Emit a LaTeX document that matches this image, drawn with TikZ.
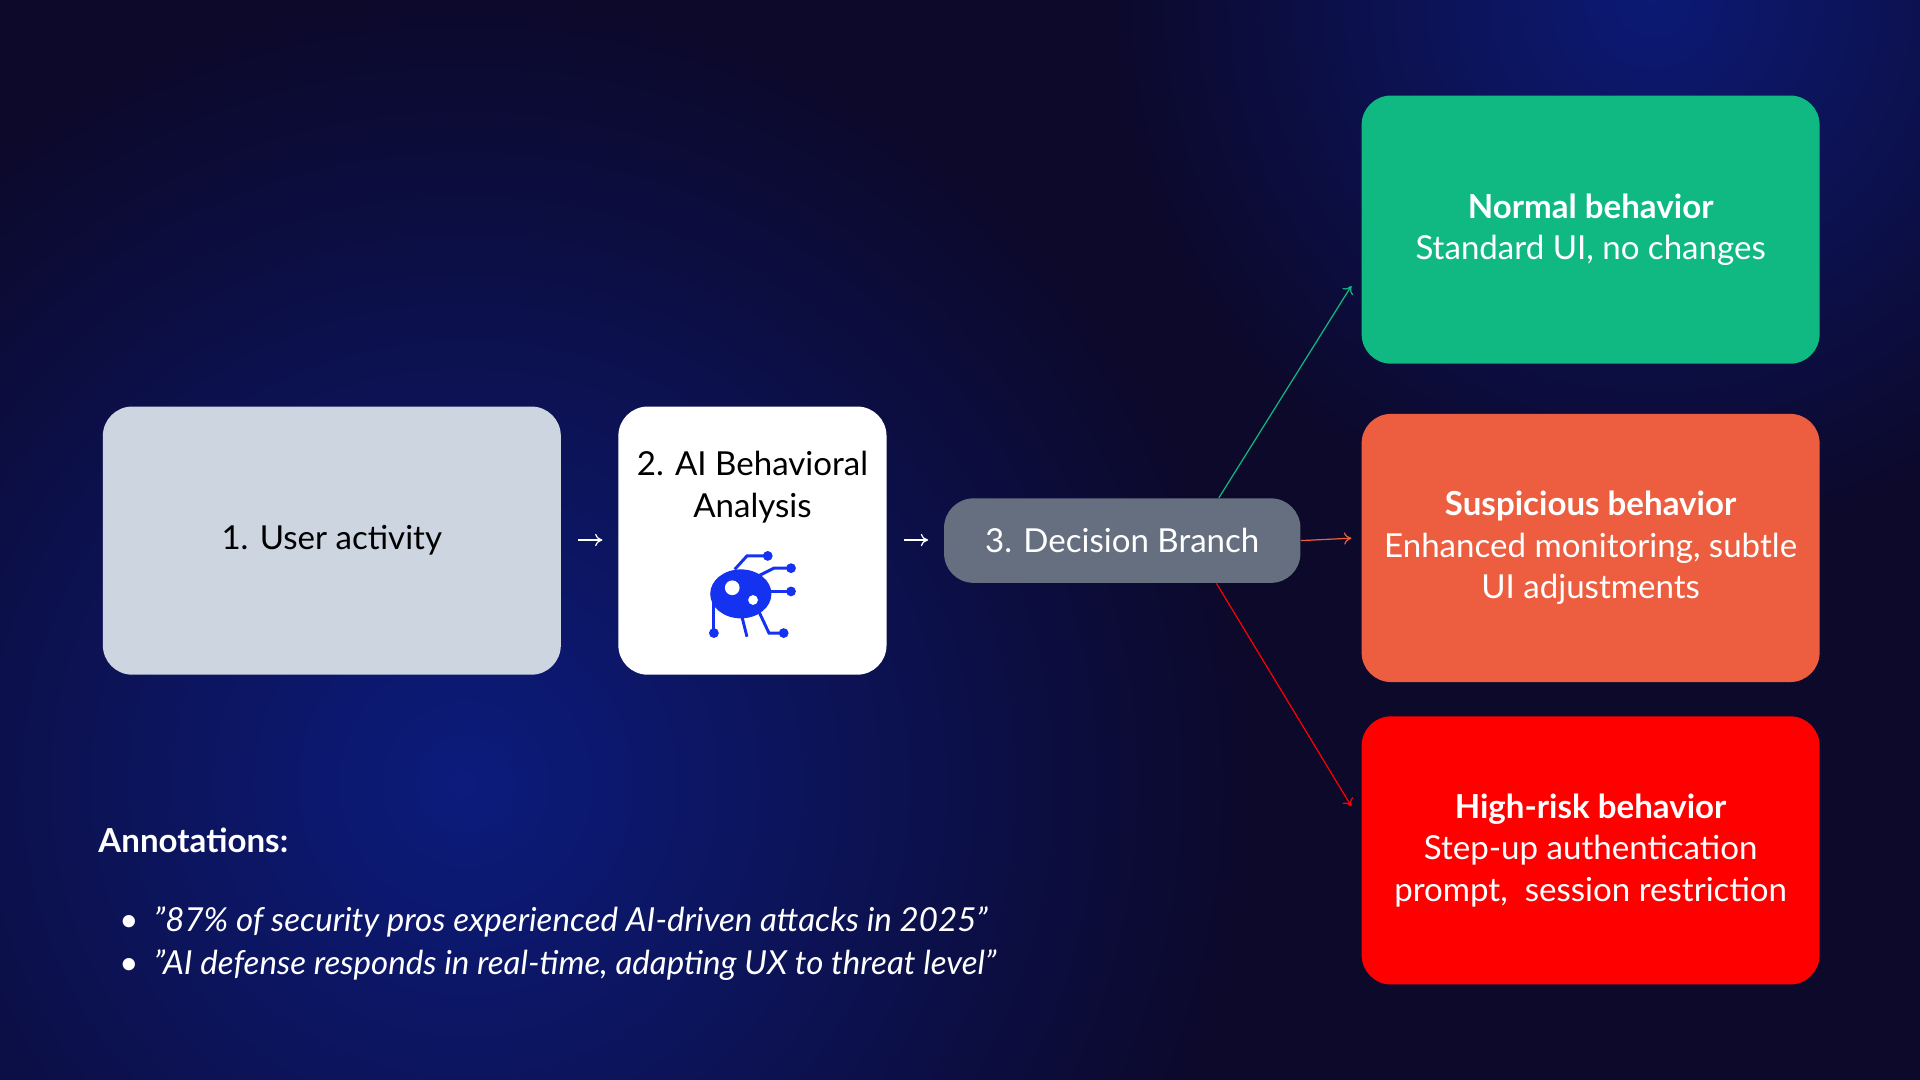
\documentclass[tikz,border=0pt]{standalone}
\usepackage{fontspec}
\setmainfont{Lato}
\usetikzlibrary{fadings,arrows.meta}
\tikzfading[name=myfade, inner color=transparent!0, outer color=transparent!100]
\definecolor{bg}{RGB}{12,9,42}
\definecolor{blu}{RGB}{13,28,125}
\definecolor{gray1}{RGB}{205,213,224}
\definecolor{dec}{RGB}{102,111,128}
\definecolor{grn}{RGB}{16,185,129}
\definecolor{org}{RGB}{236,94,63}
\definecolor{rd}{RGB}{255,0,0}
\definecolor{iconb}{RGB}{20,50,240}
\newcommand{\sq}{\symbol{34}}
\begin{document}
\begin{tikzpicture}[x=0.5pt,y=-0.5pt,
  box/.style={rounded corners=12pt,minimum width=187pt,minimum height=109.5pt,align=center,inner sep=0pt,font=\fontsize{13.5}{17}\selectfont},
  conn/.style={-{To[length=3pt,width=5pt]},line width=0.5pt}]
\useasboundingbox (0,0) rectangle (1568,882);
\fill[bg] (0,0) rectangle (1568,882);
\begin{scope}
\clip (0,0) rectangle (1568,882);
\fill[blu,path fading=myfade] (380,640) circle[radius=650];
\fill[blu,path fading=myfade,opacity=0.9] (1350,0) circle[radius=450];
\end{scope}
\node[box,fill=gray1,text=black] (ua) at (271,441.5) {1. User activity};
\node[box,fill=white,minimum width=109.5pt,text=black] (ai) at (614.5,441.5) {};
\node[font=\fontsize{13.5}{17}\selectfont,align=center] (ait) at (614.5,398) {2. AI Behavioral\\Analysis};
\node[box,fill=dec,text=white,minimum width=145.5pt,minimum height=34.5pt] (db) at (916.5,441.5) {3. Decision Branch};
\node[box,fill=grn,text=white] (g) at (1299,187.5) {\textbf{Normal behavior}\\Standard UI, no changes};
\node[box,fill=org,text=white] (o) at (1299,447.5) {\textbf{Suspicious behavior}\\Enhanced monitoring, subtle\\UI adjustments};
\node[box,fill=rd,text=white] (r) at (1299,694.5) {\textbf{High-risk behavior}\\Step-up authentication\\prompt,\ \ session restriction};
% icon
\begin{scope}[iconb,line width=1.2pt]
\fill (605,485) ellipse[x radius=25,y radius=20];
\fill[white] (598,480) circle[radius=6];
\fill[white] (615,490) circle[radius=4];
\draw (583,480) -- (583,517); \fill (583,517) circle[radius=4];
\draw (600,465) -- (610,454) -- (627,454); \fill (627,454) circle[radius=4];
\draw (620,470) -- (632,464) -- (646,464); \fill (646,464) circle[radius=4];
\draw (625,483) -- (646,483); \fill (646,483) circle[radius=4];
\draw (620,500) -- (628,517) -- (640,517); \fill (640,517) circle[radius=4];
\draw (605,500) -- (610,520);
\end{scope}
\coordinate (a1) at (472,441); \coordinate (a2) at (492,441);
\coordinate (b1) at (738,441); \coordinate (b2) at (758,441);
\draw[conn,white] (a1) -- (a2);
\draw[conn,white] (b1) -- (b2);
\draw[conn,grn] ([xshift=-67pt/2]db.north east) -- ([xshift=-4pt,yshift=-23pt]g.west);
\draw[conn,org] (db.east) -- ([xshift=-4pt,yshift=4pt]o.west);
\draw[conn,rd] ([xshift=-69pt/2]db.south east) -- ([xshift=-4pt,yshift=18pt]r.west);
\node[anchor=west,inner sep=0pt,text=white,font=\fontsize{13.5}{17}\selectfont\bfseries] (ann) at (80,686) {Annotations:};
\node[anchor=north west,inner sep=0pt,text=white,font=\fontsize{13.5}{17.5}\selectfont\itshape,align=left] (bul) at (97,740) {\textbullet\ \ \sq87\% of security pros experienced AI-driven attacks in 2025\sq\\\textbullet\ \ \sq AI defense responds in real-time, adapting UX to threat level\sq};
\end{tikzpicture}
\end{document}
